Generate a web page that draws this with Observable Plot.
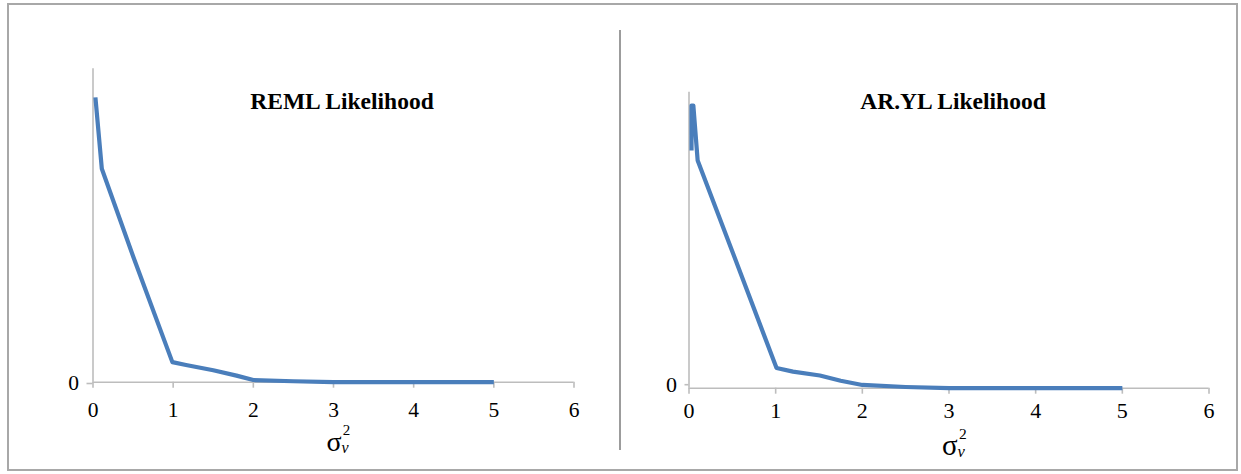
<!DOCTYPE html>
<html>
<head>
<meta charset="utf-8">
<script src="https://cdn.jsdelivr.net/npm/d3@7"></script>
<script src="https://cdn.jsdelivr.net/npm/@observablehq/plot@0.6"></script>
<style>
  html, body { margin: 0; padding: 0; background: #fff; }
  #wrap { position: relative; width: 1241px; height: 474px; background: #fff; overflow: hidden; font-family: 'Liberation Serif', serif; }
  .frame { position: absolute; left: 7px; top: 3px; width: 1231px; height: 468px; box-sizing: border-box; border: 2px solid #a8a8a8; }
  .divider { position: absolute; left: 619px; top: 30px; width: 2px; height: 420px; background: #9c9c9c; }
  .panel { position: absolute; top: 0; }
  .title { position: absolute; font-family: 'Liberation Serif', serif; font-weight: bold; color: #000; white-space: nowrap; transform: translate(-50%, -50%); line-height: 1; }
  .xlab { position: absolute; white-space: nowrap; color: #000; font-family: 'Liberation Serif', serif; line-height: 1; }
  .xlab span { position: absolute; font-family: 'Liberation Serif', serif; line-height: 1; }
  .xlab .sub { font-style: italic; }
</style>
</head>
<body>
<div id="wrap">
  <div class="frame"></div>
  <div class="divider"></div>
  <div id="left" class="panel" style="left:0px"></div>
  <div id="right" class="panel" style="left:620px"></div>
  <div class="title" style="left:342px; top:102px; font-size:23.5px">REML Likelihood</div>
  <div class="title" style="left:953px; top:102px; font-size:23.5px">AR.YL Likelihood</div>
  <div class="xlab" style="left:326.5px; top:427.5px; font-size:28px; width:36px; height:40px">
    <span style="left:0; top:0">σ</span><span style="left:16.3px; top:-4.5px; font-size:15px">2</span><span class="sub" style="left:15px; top:12.5px; font-size:16px">v</span>
  </div>
  <div class="xlab" style="left:942px; top:430.5px; font-size:29px; width:36px; height:40px">
    <span style="left:0; top:0">σ</span><span style="left:17px; top:-4.5px; font-size:15.5px">2</span><span class="sub" style="left:15.5px; top:13px; font-size:16.5px">v</span>
  </div>
</div>
<script>
// x-axis tick values
const xTicks = [0, 1, 2, 3, 4, 5, 6];
const yTicks = [0];

// REML likelihood (relative units, 0..100)
const remlX = [0.03, 0.11, 0.5, 0.99, 1.16, 1.5, 1.79, 2.0, 2.5, 3, 4, 5];
const remlY = [90.9, 68.1, 40.2, 6.4, 5.5, 3.8, 2.1, 0.7, 0.3, 0, 0, 0];

// AR.YL likelihood (relative units, 0..100)
const arylX = [0.029, 0.029, 0.05, 0.10, 0.5, 1.01, 1.2, 1.51, 1.75, 2.0, 2.5, 3, 4, 5];
const arylY = [80.3, 95.5, 95.5, 76.9, 46.2, 6.8, 5.6, 4.3, 2.5, 1.1, 0.4, 0, 0, 0];

const LINE = "#4a7ebb";
const AXIS = "#bdbdbd";
const FONT = "'Liberation Serif', serif";

function panel(xs, ys, o) {
  const data = xs.map((x, i) => ({x, y: ys[i]}));
  const svg = Plot.plot({
    width: o.width,
    height: 474,
    marginLeft: o.ml,
    marginRight: o.mr,
    marginTop: o.mt,
    marginBottom: o.mb,
    style: {background: "transparent", fontFamily: FONT, fontSize: o.fs + "px", color: "#000", overflow: "visible"},
    x: {domain: [0, 6]},
    y: {domain: [0, 100]},
    marks: [
      Plot.ruleX([0], {y1: 0, y2: 100, stroke: AXIS, strokeWidth: 1.6}),
      Plot.ruleY([0], {stroke: AXIS, strokeWidth: 1.6}),
      Plot.axisX({ticks: xTicks, tickFormat: d => String(d), tickSize: 6, tickPadding: o.xpad, stroke: AXIS, strokeWidth: 1.6, fontSize: o.fs, label: null, fill: "#000"}),
      Plot.axisY({ticks: yTicks, tickFormat: d => String(d), tickSize: o.yts, tickPadding: o.ypad, stroke: AXIS, strokeWidth: 1.6, fontSize: o.fs, label: null, fill: "#000", dy: o.ydy}),
      Plot.line(data, {x: "x", y: "y", stroke: LINE, strokeWidth: 4.2, strokeLinejoin: "round", strokeLinecap: "butt"})
    ]
  });
  d3.select(svg).selectAll("text")
    .style("font-family", FONT)
    .style("font-size", o.fs + "px");
  return svg;
}

document.getElementById("left").appendChild(panel(remlX, remlY, {
  width: 620, ml: 92.5, mr: 46.5, mt: 68.3, mb: 92.3, xpad: 13.6, fs: 21.5, yts: 6, ypad: 8, ydy: 1.3
}));
document.getElementById("right").appendChild(panel(arylX, arylY, {
  width: 621, ml: 68.5, mr: 32.5, mt: 91.7, mb: 86.3, xpad: 8.5, fs: 22, yts: 4, ypad: 8, ydy: -3.5
}));
</script>
</body>
</html>
